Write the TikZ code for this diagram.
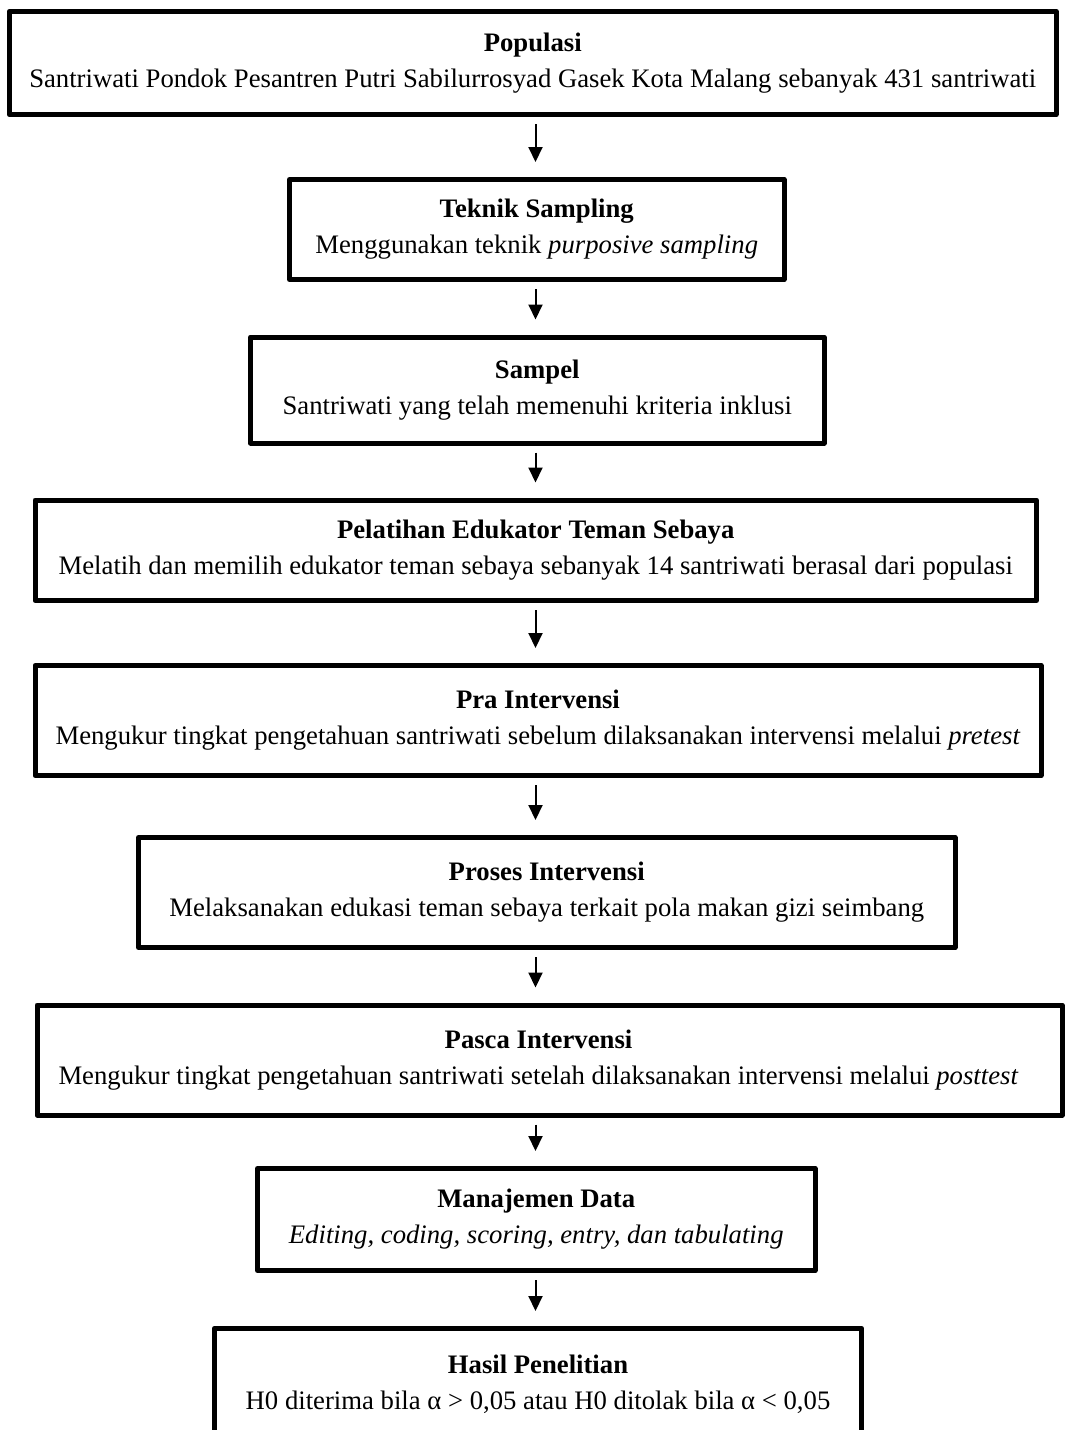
\documentclass[tikz,border=0pt]{standalone}
\usepackage{fontspec}
\setmainfont{Liberation Serif}
\usepackage{tikz}
\usetikzlibrary{positioning,arrows.meta}

\begin{document}
\begin{tikzpicture}[x=1pt,y=-1pt]
\tikzstyle{box}=[draw,line width=5pt,line join=round,align=center,inner sep=0pt,font=\fontsize{26.7}{36}\selectfont]
\tikzstyle{txt}=[align=center,inner sep=0pt,font=\fontsize{26.7}{36}\selectfont]
\tikzstyle{arr}=[-{Triangle[width=14pt,length=15pt]},line width=2pt,shorten <=7pt,shorten >=15pt]
    \fill[white] (0,0) rectangle (1066,1430);
    \useasboundingbox (0,0) rectangle (1066,1430);
    \node[box,minimum width=1046.5pt,minimum height=103.5pt] (pop) at (532.75,63)
        {\textbf{Populasi}\\Santriwati Pondok Pesantren Putri Sabilurrosyad Gasek Kota Malang sebanyak 431 santriwati};
    \node[box,minimum width=494.5pt,minimum height=100pt] (tek) at (536.75,229.5)
        {\textbf{Teknik Sampling}\\Menggunakan teknik \textit{purposive sampling}};
    \node[box,minimum width=573.5pt,minimum height=106pt] (sam) at (537.25,390)
        {\textbf{Sampel}\\Santriwati yang telah memenuhi kriteria inklusi};
    \node[box,minimum width=1001.5pt,minimum height=100.5pt] (pel) at (535.75,550.25)
        {\textbf{Pelatihan Edukator Teman Sebaya}\\Melatih dan memilih edukator teman sebaya sebanyak 14 santriwati berasal dari populasi};
    \node[box,minimum width=1006pt,minimum height=110pt] (pra) at (538,720.5)
        {\textbf{Pra Intervensi}\\Mengukur tingkat pengetahuan santriwati sebelum dilaksanakan intervensi melalui \textit{pretest}};
    \node[box,minimum width=816.5pt,minimum height=110pt] (pro) at (546.75,892.5)
        {\textbf{Proses Intervensi}\\Melaksanakan edukasi teman sebaya terkait pola makan gizi seimbang};
    \node[box,minimum width=1025pt,minimum height=110pt] (pas) at (549.5,1060) {};
    \node[txt] (pastxt) at (538.5,1060)
        {\textbf{Pasca Intervensi}\\Mengukur tingkat pengetahuan santriwati setelah dilaksanakan intervensi melalui \textit{posttest}};
    \node[box,minimum width=557.5pt,minimum height=102pt] (man) at (536.25,1219.5)
        {\textbf{Manajemen Data}\\\textit{Editing, coding, scoring, entry, dan tabulating}};
    \node[box,minimum width=647.5pt,minimum height=111pt] (has) at (538,1384)
        {\textbf{Hasil Penelitian}\\H0 diterima bila α > 0,05 atau H0 ditolak bila α < 0,05};
    \coordinate (ax) at (535.5,0);
    \draw[arr] (pop.south -| ax) to (tek.north -| ax);
    \draw[arr] (tek.south -| ax) to (sam.north -| ax);
    \draw[arr] (sam.south -| ax) to (pel.north -| ax);
    \draw[arr] (pel.south -| ax) to (pra.north -| ax);
    \draw[arr] (pra.south -| ax) to (pro.north -| ax);
    \draw[arr] (pro.south -| ax) to (pas.north -| ax);
    \draw[arr] (pas.south -| ax) to (man.north -| ax);
    \draw[arr] (man.south -| ax) to (has.north -| ax);
\end{tikzpicture}
\end{document}
